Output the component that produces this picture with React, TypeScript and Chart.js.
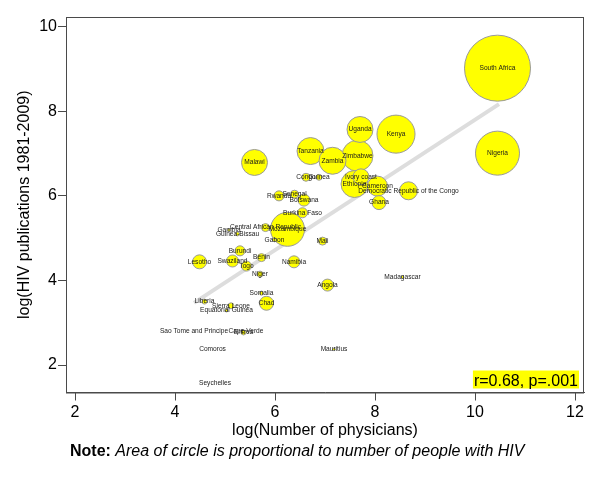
import React, { useEffect, useRef } from "react";
import { Chart, registerables } from "chart.js";

Chart.register(...registerables);

// ---- data ----
const countries = [
  "South Africa", "Nigeria", "Kenya", "Mozambique", "Zimbabwe", "Tanzania", "Zambia",
  "Ethiopia", "Uganda", "Malawi", "Cameroon", "Democratic Republic of the Congo", "Ivory coast",
  "Ghana", "Lesotho", "Chad", "Botswana", "Swaziland", "Namibia", "Angola", "Rwanda",
  "Burundi", "Togo", "Burkina Faso", "Senegal", "Congo", "Central African Republic", "Mali",
  "Benin", "Guinea", "Niger", "Sierra Leone", "Liberia", "Eritrea", "Gabon", "Somalia",
  "Equatorial Guinea", "Gambia", "Guinea-Bissau", "Madagascar", "Mauritius", "Comoros",
  "Seychelles", "Sao Tome and Principe", "Cape Verde",
];
const logPhysicians = [
  10.45, 10.45, 8.42, 6.25, 7.65, 6.71, 7.15,
  7.59, 7.70, 5.59, 8.05, 8.67, 7.72,
  8.08, 4.49, 5.83, 6.58, 5.15, 6.38, 7.05, 6.08,
  5.30, 5.43, 6.55, 6.39, 6.62, 5.81, 6.95,
  5.73, 6.88, 5.70, 5.12, 4.59, 5.37, 5.99, 5.73,
  5.03, 5.08, 5.25, 8.55, 7.18, 4.75,
  4.80, 4.38, 5.42,
];
const logPublications = [
  9.02, 7.01, 7.46, 5.21, 6.95, 7.06, 6.83,
  6.28, 7.57, 6.79, 6.23, 6.12, 6.45,
  5.84, 4.44, 3.46, 5.90, 4.46, 4.44, 3.89, 6.00,
  4.70, 4.34, 5.60, 6.04, 6.44, 5.25, 4.93,
  4.54, 6.44, 4.15, 3.40, 3.50, 2.77, 4.96, 3.70,
  3.29, 5.19, 5.10, 4.08, 2.37, 2.37,
  1.58, 2.81, 2.81,
];
// people living with HIV (thousands), circle area proportional
const hivThousands = [
  5600, 2490, 1860, 1490, 1235, 937, 937,
  937, 869, 869, 514, 417, 329,
  252, 252, 252, 185, 185, 185, 185, 129,
  129, 129, 129, 82, 82, 82, 82,
  82, 46, 46, 46, 32, 32, 20, 21,
  12, 10, 20, 10, 10, 0,
  0, 0, 1,
];
const fitX = [4.38, 10.48];
const fitY = [3.47, 8.17];
const xTicks = [2, 4, 6, 8, 10, 12];
const yTicks = [2, 4, 6, 8, 10];
const xTitle = "log(Number of physicians)";
const yTitle = "log(HIV publications 1981-2009)";
const statText = "r=0.68, p=.001";
const noteBold = "Note:";
const noteText = " Area of circle is proportional to number of people with HIV";

const FONT = "'Liberation Sans', Arial, Helvetica, sans-serif";
const AXIS = "#4a4a4a";
const MAX_R = 33;

function zeroPad(s: any) {
  s.paddingTop = 0;
  s.paddingBottom = 0;
  s.paddingLeft = 0;
  s.paddingRight = 0;
}

export default function App() {
  const ref = useRef<HTMLCanvasElement | null>(null);

  useEffect(() => {
    const canvas = ref.current;
    if (!canvas) return;
    const maxPop = Math.max(...hivThousands);
    const bubbles = countries
      .map((c, i) => ({
        x: logPhysicians[i],
        y: logPublications[i],
        r: MAX_R * Math.sqrt(hivThousands[i] / maxPop),
        label: c,
      }))
      .sort((a, b) => b.r - a.r);

    const overlay = {
      id: "overlay",
      afterDatasetsDraw(chart: any) {
        const ctx = chart.ctx;
        const area = chart.chartArea;
        ctx.save();
        // point labels
        const meta = chart.getDatasetMeta(1);
        ctx.font = `6.6px ${FONT}`;
        ctx.fillStyle = "#1a1a1a";
        ctx.textAlign = "center";
        ctx.textBaseline = "middle";
        meta.data.forEach((el: any, i: number) => {
          const d = chart.data.datasets[1].data[i];
          ctx.fillText(d.label, el.x, el.y);
        });
        // stat annotation
        ctx.font = `16px ${FONT}`;
        const w = ctx.measureText(statText).width;
        const rx = area.right - 6;
        ctx.fillStyle = "#ffff00";
        ctx.fillRect(rx - w - 1, area.bottom - 22, w + 2, 18);
        ctx.fillStyle = "#000";
        ctx.textAlign = "right";
        ctx.textBaseline = "alphabetic";
        ctx.fillText(statText, rx, area.bottom - 7);
        // frame
        ctx.strokeStyle = AXIS;
        ctx.lineWidth = 1;
        ctx.strokeRect(area.left + 0.5, area.top + 0.5, area.right - area.left - 1, area.bottom - area.top);
        // note
        ctx.textAlign = "left";
        ctx.fillStyle = "#000";
        ctx.font = `bold 16px ${FONT}`;
        ctx.fillText(noteBold, 70, 456);
        const nb = ctx.measureText(noteBold).width;
        ctx.font = `italic 16px ${FONT}`;
        ctx.fillText(noteText, 70 + nb, 456);
        ctx.restore();
      },
    };

    const chart = new Chart(canvas, {
      type: "bubble",
      data: {
        datasets: [
          {
            type: "line" as any,
            data: fitX.map((x, i) => ({ x, y: fitY[i] })),
            borderColor: "#dddddd",
            borderWidth: 4,
            pointRadius: 0,
            fill: false,
            order: 2,
          } as any,
          {
            data: bubbles as any,
            backgroundColor: "#ffff00",
            borderColor: "#999999",
            borderWidth: 1,
            order: 1,
          },
        ],
      },
      options: {
        responsive: false,
        animation: false,
        events: [],
        layout: { autoPadding: false, padding: { top: 17, right: 16, bottom: 0, left: 0 } },
        plugins: { legend: { display: false }, tooltip: { enabled: false } },
        scales: {
          x: {
            type: "linear",
            min: 1.82,
            max: 12.18,
            afterBuildTicks: (s: any) => {
              s.ticks = xTicks.map((v) => ({ value: v }));
            },
            afterFit: (s: any) => {
              s.height = 87.5;
              zeroPad(s);
            },
            grid: { display: true, drawOnChartArea: false, drawTicks: true, tickLength: 8, color: AXIS },
            border: { display: true, color: AXIS },
            ticks: { color: "#000", font: { size: 16, family: FONT }, padding: 2, maxRotation: 0 },
            title: {
              display: true,
              text: xTitle,
              color: "#000",
              font: { size: 16, family: FONT },
              padding: { top: 0, bottom: 40 },
            },
          },
          y: {
            type: "linear",
            min: 1.35,
            max: 10.23,
            afterBuildTicks: (s: any) => {
              s.ticks = yTicks.map((v) => ({ value: v }));
            },
            afterFit: (s: any) => {
              s.width = 66;
              zeroPad(s);
            },
            grid: { display: true, drawOnChartArea: false, drawTicks: true, tickLength: 8, color: AXIS },
            border: { display: true, color: AXIS },
            ticks: { color: "#000", font: { size: 16, family: FONT }, padding: 1 },
            title: {
              display: true,
              text: yTitle,
              color: "#000",
              font: { size: 16, family: FONT },
              padding: { top: 15, bottom: 0 },
            },
          },
        },
      },
      plugins: [overlay],
    });
    return () => chart.destroy();
  }, []);

  return (
    <div style={{ position: "fixed", left: 0, top: 0, width: 600, height: 480, background: "#fff" }}>
      <canvas ref={ref} width={600} height={480} />
    </div>
  );
}
